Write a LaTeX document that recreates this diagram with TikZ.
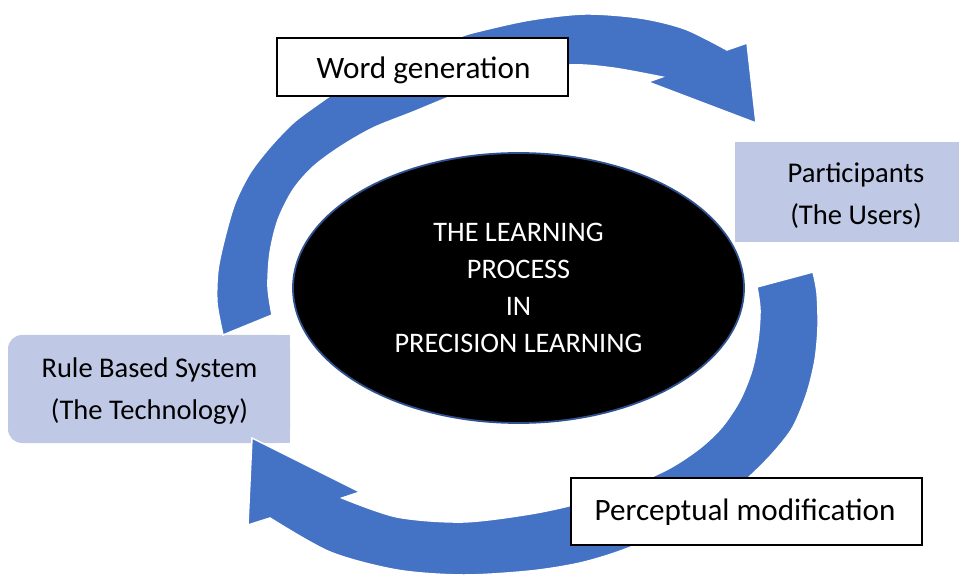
\documentclass[tikz,border=0pt]{standalone}
\usepackage{fontspec}
\setmainfont{Carlito}
\usetikzlibrary{shapes.geometric}
\definecolor{arrowblue}{RGB}{68,114,196}
\definecolor{boxfill}{RGB}{191,201,229}
\definecolor{rimblue}{RGB}{47,82,143}
\begin{document}
\begin{tikzpicture}[x=1pt,y=-1pt,
  bandarrow/.style={fill=arrowblue, draw=white, line width=1.5pt, line join=miter},
  whitebox/.style={draw=black, fill=white, line width=1.2pt, inner sep=0pt},
  bluebox/.style={fill=boxfill, inner sep=0pt},
  txt/.style={inner sep=0pt, align=center}]
\useasboundingbox (0,0) rectangle (959,577);

% side boxes (under the arrows)
\node[bluebox, rounded corners=14pt, minimum width=282pt, minimum height=108pt] (rulesys) at (149,389) {};
\fill[boxfill] (rulesys.north) rectangle (rulesys.south east);
\node[txt, font=\fontsize{28.5}{42}\selectfont] (ruletxt) at (149.5,391) {Rule Based System\\(The Technology)};

\node[bluebox, minimum width=240pt, minimum height=100pt] (users) at (855,192) {};
\node[txt, font=\fontsize{28.6}{42}\selectfont] (userstxt) at (856,196) {Participants\\(The Users)};

% upper curved arrow
\fill[bandarrow] plot[smooth, tension=0.5] coordinates {(223,335) (217,303) (218,270) (225,237) (235,203) (250,173) (270,147) (293,123) (317,105) (340,90) (395,63) (457,38) (480,31) (530,20) (585,14) (640,18) (685,29) (727,50)}
  -- (747,43) -- (756,123) -- (648,82) --
  plot[smooth, tension=0.5] coordinates {(662,77) (613,68) (570,65) (520,74) (480,86) (447,98) (413,112) (373,128) (340,147) (313,167) (293,190) (278,220) (270,253) (268,287) (272,315)}
  -- cycle;

% lower curved arrow
\fill[bandarrow] plot[smooth, tension=0.5] coordinates {(813,272) (817,293) (818,327) (815,360) (807,393) (793,427) (773,453) (748,478) (715,505) (670,530) (623,550) (580,563) (530,571) (463,575) (397,570) (330,552) (270,518)}
  -- (248,525) -- (252,438) -- (360,492) --
  plot[smooth, tension=0.5] coordinates {(342,498) (397,517) (463,522) (530,514) (580,503) (630,486) (670,468) (700,448) (722,427) (740,400) (752,370) (758,340) (760,310) (757,287)}
  -- cycle;

% label boxes on the arrows
\node[whitebox, minimum width=291pt, minimum height=58pt] (wordgen) at (422.5,67) {};
\node[txt, font=\fontsize{31.2}{36}\selectfont] (wordtxt) at (423.5,70) {Word generation};

\node[whitebox, minimum width=351pt, minimum height=67pt] (percept) at (746.5,511.5) {};
\node[txt, font=\fontsize{31.1}{36}\selectfont] (percepttxt) at (745,512) {Perceptual modification};

% centre ellipse
\node[ellipse, fill=black, draw=rimblue, line width=1.8pt, minimum width=451pt, minimum height=270pt,
      text=white, align=center, font=\fontsize{28.3}{37}\selectfont, inner sep=0pt] (core) at (518.5,288)
  {THE LEARNING\\PROCESS\\IN\\PRECISION LEARNING};
\end{tikzpicture}
\end{document}
